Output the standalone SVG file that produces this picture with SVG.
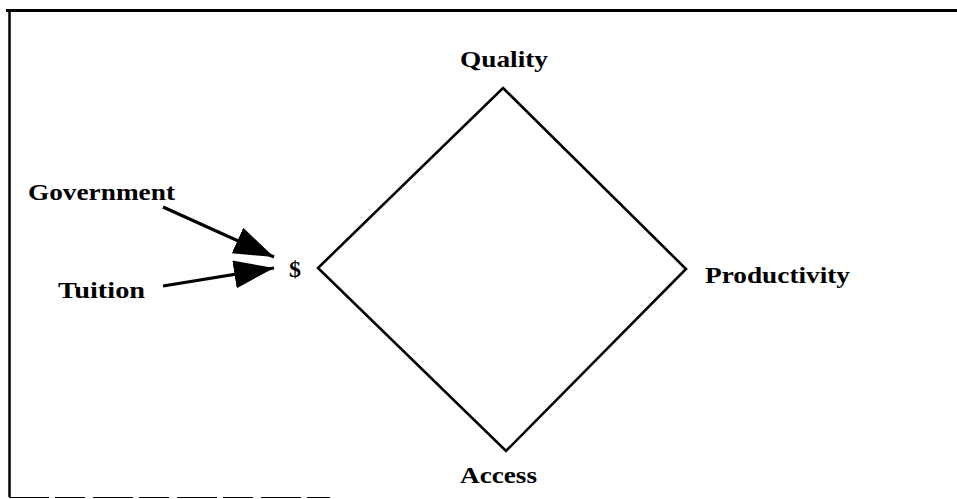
<svg xmlns="http://www.w3.org/2000/svg" width="957" height="499" viewBox="0 0 957 499">
<style>
.lbl{font-family:"Liberation Serif","Times New Roman",serif;font-weight:bold;font-size:24px;fill:#000}
.frame{stroke:#000;fill:none}
.dia{stroke:#000;stroke-width:2.6;fill:none;stroke-linejoin:miter}
.arr{stroke:#000;stroke-width:3.2;fill:none}
</style>
<defs>
<marker id="ah" markerUnits="userSpaceOnUse" markerWidth="42" markerHeight="30" refX="40" refY="14" orient="auto">
<path d="M0,0 L40,14 L0,28 Z" fill="#000"/>
</marker>
</defs>
<rect width="957" height="499" fill="#fff"/>
<g id="frame">
<line class="frame" x1="6" y1="10.5" x2="957" y2="10.5" stroke-width="3"/>
<line class="frame" x1="9.5" y1="9" x2="9.5" y2="497" stroke-width="2.5"/>
<line class="frame" x1="9" y1="497.5" x2="330" y2="497.5" stroke="#aaa" stroke-width="1" stroke-dasharray="40,6,30,8"/>
</g>
<g id="diamond">
<path class="dia" d="M503,88 L686,269 L506,451 L318,268 Z"/>
</g>
<g id="quality"><text class="lbl" x="460" y="67" textLength="88" lengthAdjust="spacingAndGlyphs">Quality</text></g>
<g id="productivity"><text class="lbl" x="705" y="283" textLength="145" lengthAdjust="spacingAndGlyphs">Productivity</text></g>
<g id="access"><text class="lbl" x="460" y="483" textLength="77" lengthAdjust="spacingAndGlyphs">Access</text></g>
<g id="dollar"><text class="lbl" x="289" y="277">$</text></g>
<g id="government"><text class="lbl" x="28" y="200" textLength="147" lengthAdjust="spacingAndGlyphs">Government</text></g>
<g id="tuition"><text class="lbl" x="58" y="298" textLength="87" lengthAdjust="spacingAndGlyphs">Tuition</text></g>
<g id="connectors">
<line class="arr" x1="163" y1="207" x2="274" y2="257" marker-end="url(#ah)"/>
<line class="arr" x1="163" y1="286" x2="274" y2="268" marker-end="url(#ah)"/>
</g>
</svg>
